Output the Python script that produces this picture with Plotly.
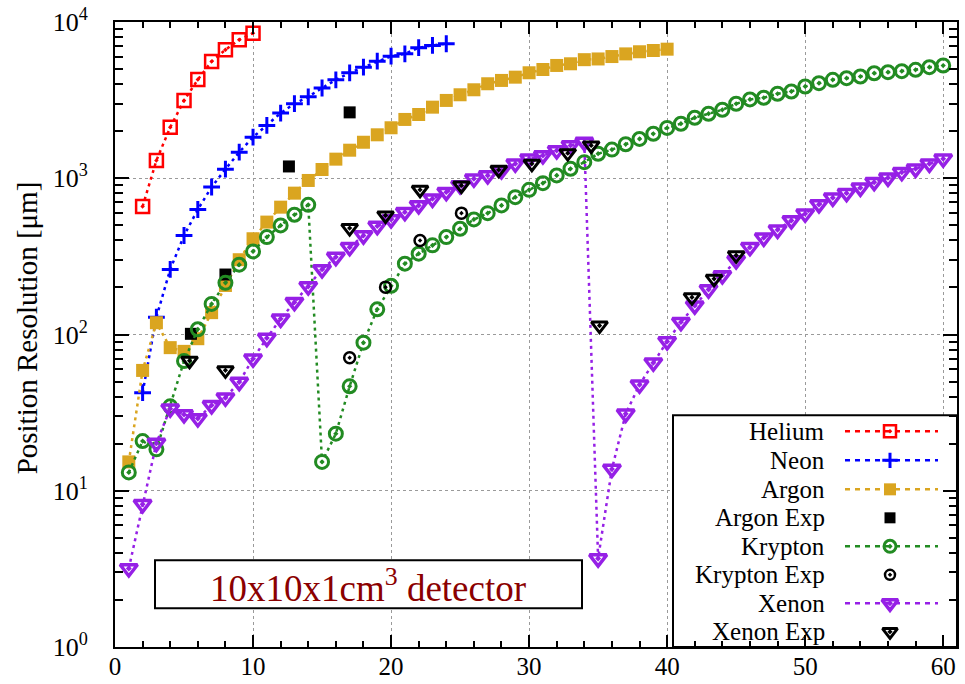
import plotly.graph_objects as go

# ---- simulated position resolution (um) versus photon energy ----
helium_e = [2, 3, 4, 5, 6, 7, 8, 9, 10]
helium_r = [660, 1300, 2120, 3140, 4280, 5590, 6640, 7690, 8480]

neon_e = list(range(2, 25))
neon_r = [42.4, 129, 261, 430, 631, 879, 1143, 1468, 1833, 2178, 2611, 3000,
          3320, 3780, 4268, 4730, 5140, 5610, 6040, 6260, 6845, 7080, 7260]

argon_e = list(range(1, 41))
argon_r = [15.3, 58.9, 119, 82.4, 78, 94, 138, 206, 301, 410,
           524, 653, 803, 968, 1138, 1325, 1512, 1700, 1897, 2104,
           2379, 2559, 2851, 3148, 3422, 3683, 4025, 4227, 4436, 4732,
           4966, 5271, 5402, 5740, 5800, 6010, 6250, 6450, 6570, 6700]

krypton_e = list(range(1, 61))
krypton_r = [13.1, 20.8, 18.4, 34.7, 67.6, 108, 157, 214, 280, 340,
             420, 499, 584, 676, 15.3, 23.2, 46.6, 88.7, 145, 205,
             284, 329, 372, 420, 475, 545, 598, 670, 757, 843,
             930, 1042, 1150, 1268, 1435, 1525, 1650, 1785, 1926, 2100,
             2233, 2440, 2588, 2743, 2998, 3195, 3275, 3474, 3592, 3867,
             4058, 4266, 4368, 4479, 4700, 4772, 4843, 4944, 5138, 5266]

xenon_e = list(range(1, 61))
xenon_r = [3.18, 8.19, 20.2, 33.5, 30.8, 29.0, 35.2, 39.4, 49.6, 70,
           94.9, 126, 161, 203, 261, 313, 362, 430, 494, 545,
           607, 670, 739, 815, 899, 993, 1042, 1122, 1239, 1334,
           1400, 1506, 1622, 1703, 3.68, 13.8, 31.1, 47.7, 66, 90.3,
           120, 153, 194, 239, 298, 362, 416, 468, 537, 593,
           680, 750, 803, 869, 944, 1007, 1093, 1150, 1238, 1333]

# ---- measurements ----
argon_exp_e = [5.5, 8.0, 12.6, 17.0]
argon_exp_r = [101, 242, 1190, 2640]

krypton_exp_e = [17.0, 19.6, 22.1, 25.1]
krypton_exp_r = [71, 201, 400, 598]

xenon_exp_e = [5.4, 8.0, 17.0, 19.6, 22.1, 25.1, 27.8, 30.2, 32.8, 34.5,
               35.1, 41.8, 43.4, 45.0]
xenon_exp_r = [68, 59, 480, 578, 844, 899, 1133, 1238, 1448, 1622,
               114, 173, 227, 321]

x_ticks = [0, 10, 20, 30, 40, 50, 60]
y_ticks = [1, 10, 100, 1000, 10000]
y_ticktext = ["10<sup>0</sup>", "10<sup>1</sup>", "10<sup>2</sup>",
              "10<sup>3</sup>", "10<sup>4</sup>"]

# ---- styling ----
FONT = "Liberation Serif"
RED, BLUE, GOLD, GREEN, PURPLE = "#FF0000", "#0000FF", "#DAA520", "#228B22", "#9620E6"
DOT = "3px,4px"

W, H = 965, 684
PL, PR, PT, PB = 115, 957, 21.6, 646.7   # plot-area edges in page pixels
X_MAX = 61


def dom_x(px):
    return (px - PL) / (PR - PL)


def dom_y(py):
    return (PB - py) / (PB - PT)


def data_x(px):
    return dom_x(px) * X_MAX


def data_y(py):
    return 10 ** (4 * dom_y(py))


series = [
    # name, x, y, colour, symbol, size, marker line width, joined
    ("Helium", helium_e, helium_r, RED, "square-open-dot", 13, 2.5, True),
    ("Neon", neon_e, neon_r, BLUE, "cross-thin", 12, 3, True),
    ("Argon", argon_e, argon_r, GOLD, "square", 13, 0, True),
    ("Argon Exp", argon_exp_e, argon_exp_r, "black", "square", 12, 0, False),
    ("Krypton", krypton_e, krypton_r, GREEN, "circle-open-dot", 13, 3, True),
    ("Krypton Exp", krypton_exp_e, krypton_exp_r, "black", "circle-open-dot", 11, 2.5, False),
    ("Xenon", xenon_e, xenon_r, PURPLE, "triangle-down-open-dot", 15, 3.5, True),
    ("Xenon Exp", xenon_exp_e, xenon_exp_r, "black", "triangle-down-open-dot", 14, 3, False),
]

fig = go.Figure()

for name, xs, ys, col, sym, size, mlw, joined in series:
    fig.add_trace(go.Scatter(
        x=xs, y=ys, name=name,
        mode="lines+markers" if joined else "markers",
        line=dict(color=col, width=2.5, dash=DOT),
        marker=dict(symbol=sym, size=size, color=col,
                    line=dict(color=col, width=mlw)),
        showlegend=False,
    ))

# ---- legend panel drawn inside the plot, text right-aligned, sample on the right ----
legend_rows = [431, 460, 489, 517.5, 546, 574.5, 603, 631.5]
annotations = []
shapes = []
LX0, LX1, LXC, LTEXT = 845, 938, 890, 827
for (name, xs, ys, col, sym, size, mlw, joined), ry in zip(series, legend_rows):
    annotations.append(dict(
        xref="paper", yref="paper", x=dom_x(LTEXT), y=dom_y(ry),
        xanchor="right", yanchor="middle", showarrow=False, text=name,
        font=dict(family=FONT, size=25, color="black")))
    if joined:
        fig.add_trace(go.Scatter(
            x=[data_x(LX0), data_x(LX1)], y=[data_y(ry)] * 2, mode="lines",
            line=dict(color=col, width=2.5, dash="5px,5px"),
            showlegend=False, hoverinfo="skip", cliponaxis=False))
    fig.add_trace(go.Scatter(
        x=[data_x(LXC)], y=[data_y(ry)], mode="markers",
        marker=dict(symbol=sym, size=size - 1, color=col,
                    line=dict(color=col, width=mlw)),
        showlegend=False, hoverinfo="skip", cliponaxis=False))

# legend frame (between grid and traces)
shapes.append(dict(type="rect", xref="x", yref="y",
                   x0=data_x(673), x1=X_MAX, y0=1, y1=data_y(415),
                   line=dict(color="black", width=2), fillcolor="white",
                   layer="between"))

# detector label box
shapes.append(dict(type="rect", xref="x", yref="y",
                   x0=data_x(155), x1=data_x(582), y0=data_y(608), y1=data_y(560),
                   line=dict(color="black", width=2), fillcolor="white",
                   layer="between"))
annotations.append(dict(
    xref="paper", yref="paper", x=dom_x(368), y=dom_y(585),
    xanchor="center", yanchor="middle", showarrow=False,
    text="10x10x1cm<sup>3</sup> detector",
    font=dict(family=FONT, size=37, color="#8B0000")))

# y-axis title
annotations.append(dict(
    xref="paper", yref="paper", x=dom_x(27), y=dom_y(328),
    xanchor="center", yanchor="middle", showarrow=False, textangle=-90,
    text="Position Resolution [\u03bcm]",
    font=dict(family=FONT, size=29, color="black")))

fig.update_layout(
    width=W, height=H, autosize=False,
    margin=dict(l=PL, r=W - PR, t=PT, b=H - PB, pad=0, autoexpand=False),
    paper_bgcolor="white", plot_bgcolor="white",
    font=dict(family=FONT, color="black"),
    shapes=shapes, annotations=annotations,
    showlegend=False,
)

fig.update_xaxes(
    range=[0, X_MAX], tickvals=x_ticks, ticks="inside", ticklen=12, tickwidth=2,
    tickcolor="black", showline=True, linecolor="black", linewidth=2,
    mirror="ticks", showgrid=True, gridcolor="#9a9a9a", griddash="dot",
    gridwidth=1, zeroline=False, tickfont=dict(family=FONT, size=25),
    ticklabelstandoff=-4, automargin=False,
    minor=dict(dtick=2, ticks="inside", ticklen=6, tickwidth=1.5,
               tickcolor="black", showgrid=False),
)
fig.update_yaxes(
    type="log", range=[0, 4], tickvals=y_ticks, ticktext=y_ticktext,
    ticks="inside", ticklen=14, tickwidth=2, tickcolor="black",
    showline=True, linecolor="black", linewidth=2, mirror="ticks",
    showgrid=True, gridcolor="#9a9a9a", griddash="dot", gridwidth=1,
    zeroline=False, tickfont=dict(family=FONT, size=26),
    ticklabelstandoff=20, automargin=False,
    minor=dict(dtick="D1", ticks="inside", ticklen=8, tickwidth=1.5,
               tickcolor="black", showgrid=False),
)

fig.write_html("out.html")
